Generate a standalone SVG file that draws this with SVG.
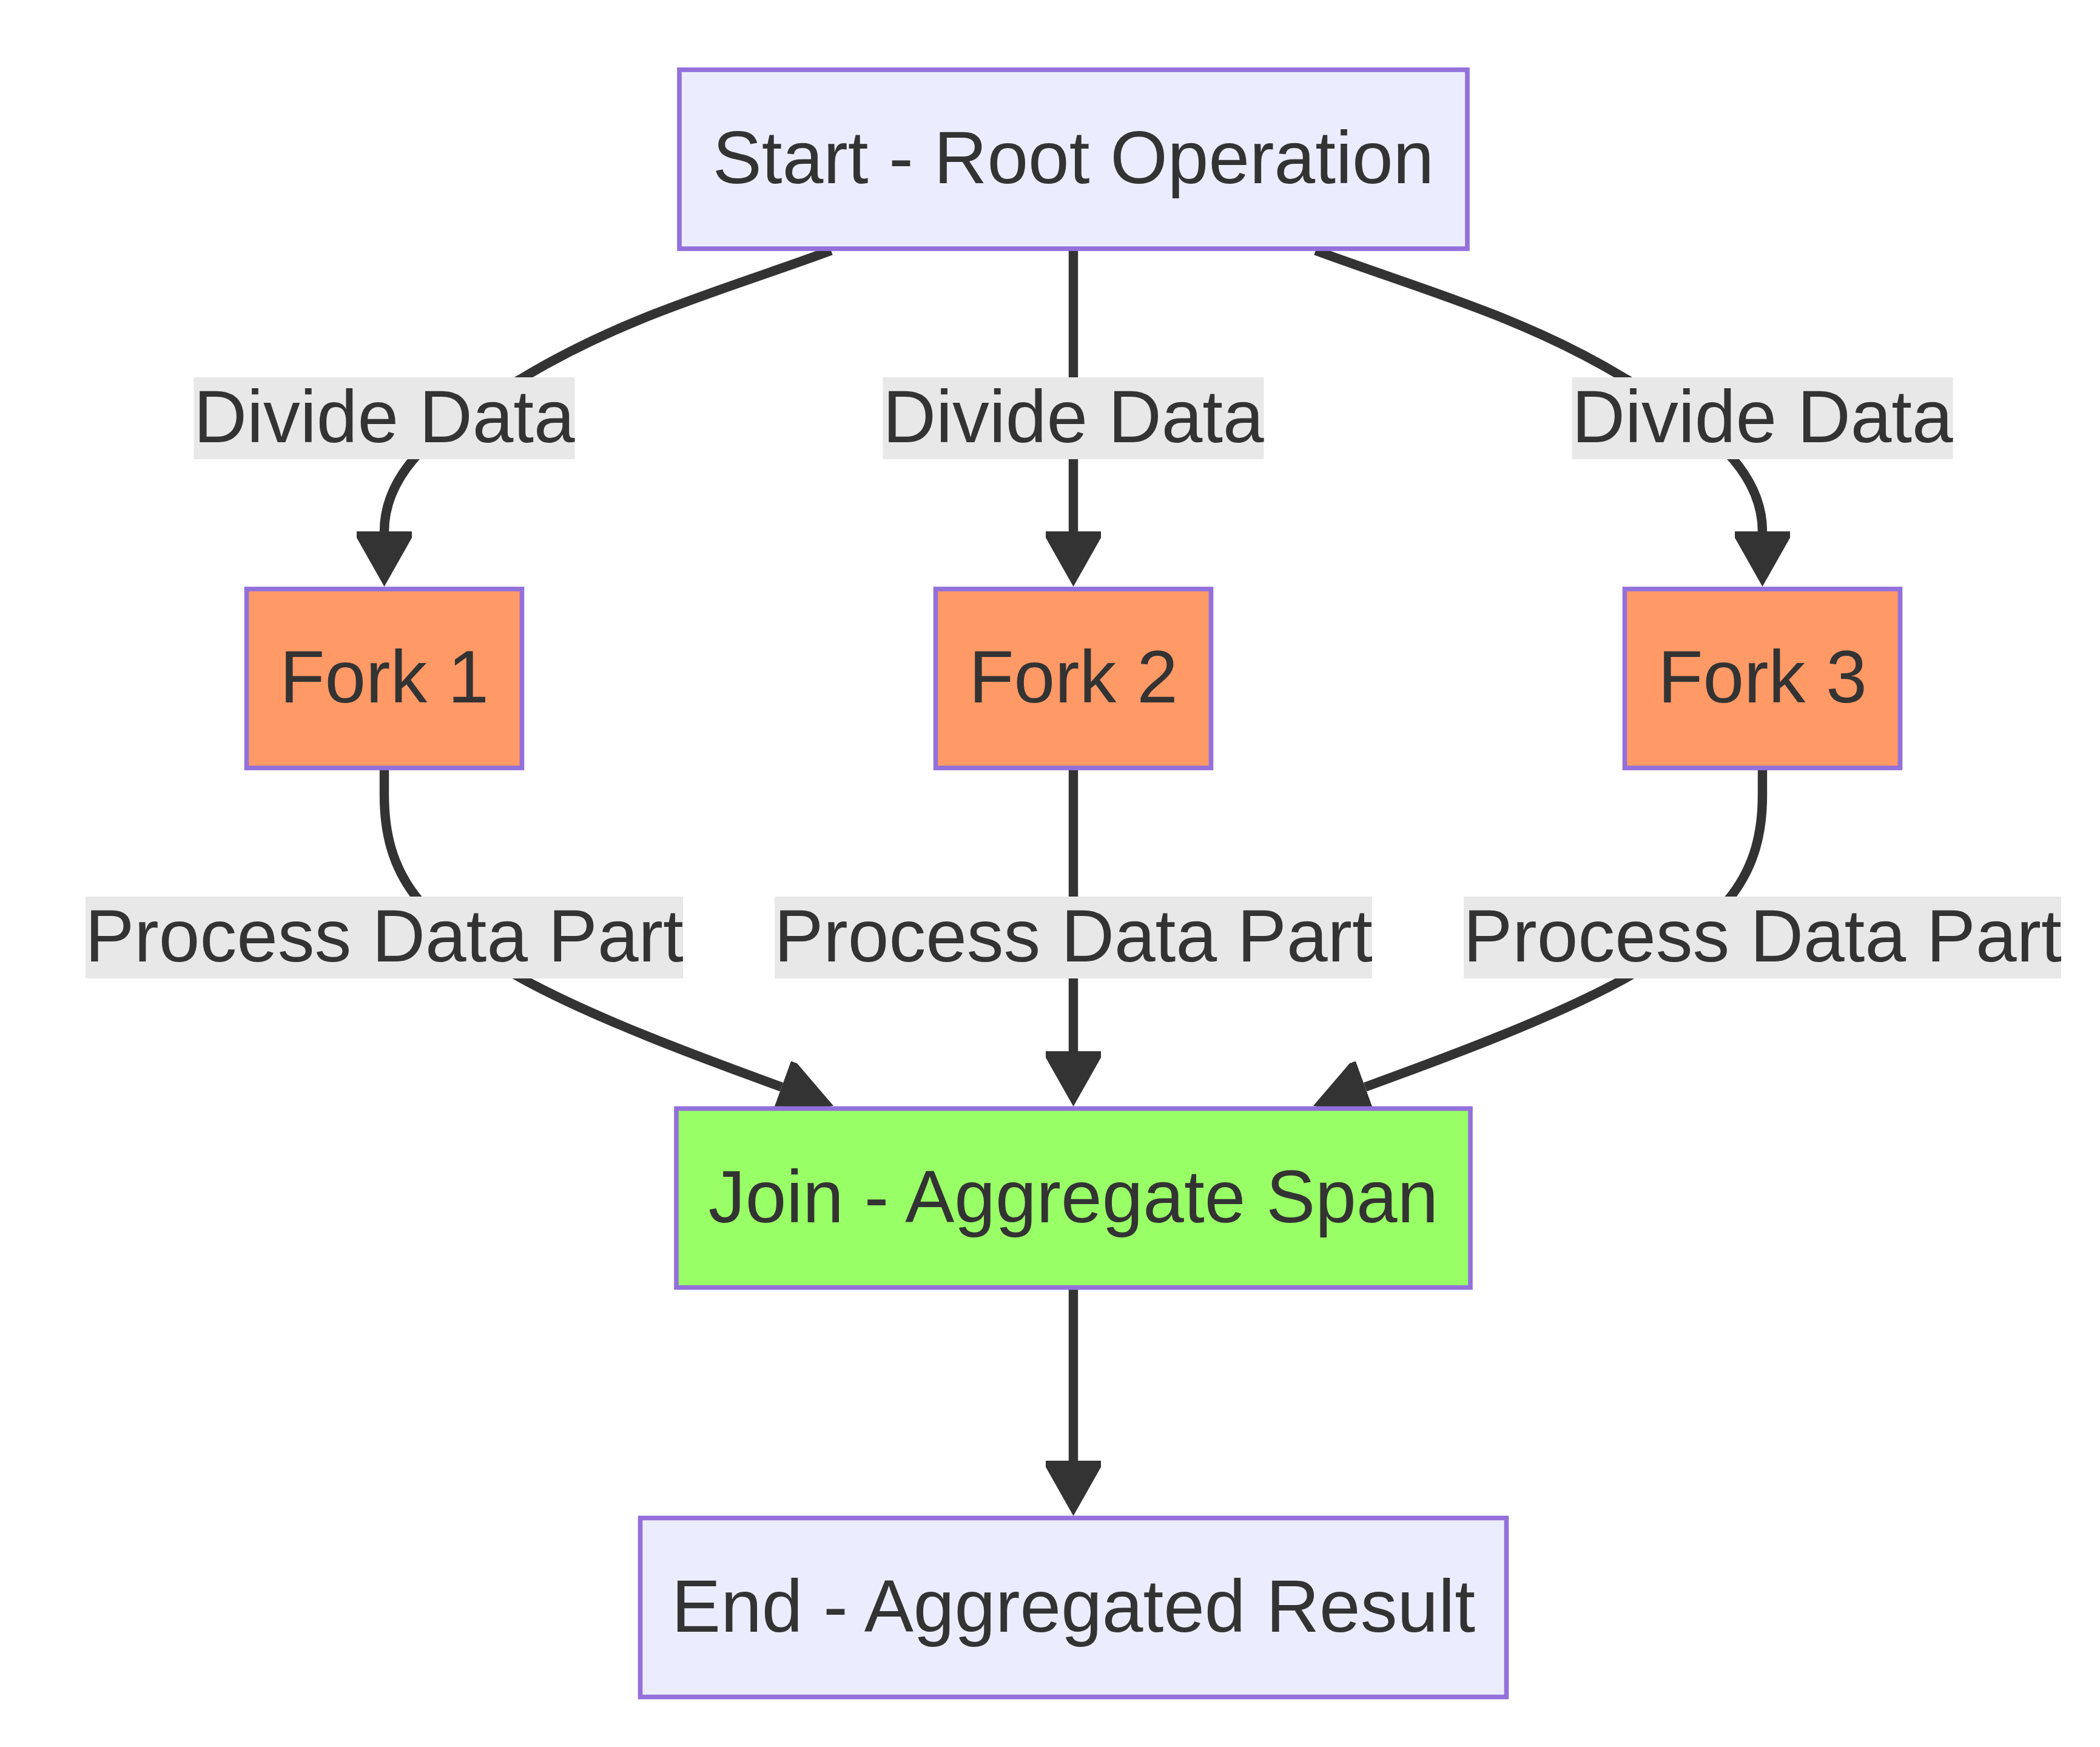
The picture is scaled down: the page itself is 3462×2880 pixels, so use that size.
<svg xmlns="http://www.w3.org/2000/svg" width="3462" height="2880" viewBox="0 0 3462 2880">
  <style>
    .node rect { stroke: #9370DB; stroke-width: 7.6; }
    .plain rect { fill: #ECECFF; }
    .fork rect { fill: #FF9966; }
    .join rect { fill: #99FF66; }
    text { font-family: "Liberation Sans", Arial, sans-serif; font-size: 121.6px; fill: #333333; text-anchor: middle; }
    .edge { fill: none; stroke: #333333; stroke-width: 15.4; marker-end: url(#arrow); }
    .lbl rect { fill: #E8E8E8; }
  </style>
  <defs>
    <marker id="arrow" viewBox="0 0 91 91" markerWidth="91" markerHeight="91" markerUnits="userSpaceOnUse" refX="0" refY="45.5" orient="auto">
      <path d="M0,0 L10.5,0 L91,45.5 L10.5,91 L0,91 Z" fill="#333333"/>
    </marker>
  </defs>
  <rect x="0" y="0" width="3462" height="2880" fill="#FFFFFF"/>

  <g id="connectors">
    <path id="e-start-fork1" class="edge" d="M1370,413 C1197,477 1033,520 863,622 C763,682 633.5,757 633.5,876"/>
    <path id="e-start-fork2" class="edge" d="M1769.5,410 L1769.5,876"/>
    <path id="e-start-fork3" class="edge" d="M2169,413 C2342,477 2506,520 2676,622 C2776,682 2905.5,757 2905.5,876"/>
    <path id="e-fork1-join" class="edge" d="M633.5,1266 L633.5,1310 C633.5,1440 690,1517.8 860,1613 C980,1679 1158.5,1744.7 1288.5,1792"/>
    <path id="e-fork2-join" class="edge" d="M1769.5,1266 L1769.5,1733"/>
    <path id="e-fork3-join" class="edge" d="M2905.5,1266 L2905.5,1310 C2905.5,1440 2849,1517.8 2679,1613 C2559,1679 2380.5,1744.7 2250.5,1792"/>
    <path id="e-join-end" class="edge" d="M1769.5,2122.5 L1769.5,2408"/>
  </g>

  <g id="edge-labels">
    <g id="l-divide-1" class="lbl"><rect x="319.5" y="622" width="628" height="135"/><text x="633.5" y="729">Divide Data</text></g>
    <g id="l-divide-2" class="lbl"><rect x="1455.5" y="622" width="628" height="135"/><text x="1769.5" y="729">Divide Data</text></g>
    <g id="l-divide-3" class="lbl"><rect x="2591.5" y="622" width="628" height="135"/><text x="2905.5" y="729">Divide Data</text></g>
    <g id="l-process-1" class="lbl"><rect x="141" y="1478" width="985" height="135"/><text x="633.5" y="1585">Process Data Part</text></g>
    <g id="l-process-2" class="lbl"><rect x="1277" y="1478" width="985" height="135"/><text x="1769.5" y="1585">Process Data Part</text></g>
    <g id="l-process-3" class="lbl"><rect x="2413" y="1478" width="985" height="135"/><text x="2905.5" y="1585">Process Data Part</text></g>
  </g>

  <g id="node-start" class="node plain">
    <rect x="1120" y="115" width="1299" height="295"/>
    <text x="1769.5" y="302">Start - Root Operation</text>
  </g>
  <g id="node-fork1" class="node fork">
    <rect x="406.5" y="971" width="454" height="295"/>
    <text x="633.5" y="1158">Fork 1</text>
  </g>
  <g id="node-fork2" class="node fork">
    <rect x="1542.5" y="971" width="454" height="295"/>
    <text x="1769.5" y="1158">Fork 2</text>
  </g>
  <g id="node-fork3" class="node fork">
    <rect x="2678.5" y="971" width="454" height="295"/>
    <text x="2905.5" y="1158">Fork 3</text>
  </g>
  <g id="node-join" class="node join">
    <rect x="1115" y="1827.5" width="1309" height="295"/>
    <text x="1769.5" y="2014.5">Join - Aggregate Span</text>
  </g>
  <g id="node-end" class="node plain">
    <rect x="1055.5" y="2502.5" width="1428" height="295"/>
    <text x="1769.5" y="2689.5">End - Aggregated Result</text>
  </g>
</svg>
